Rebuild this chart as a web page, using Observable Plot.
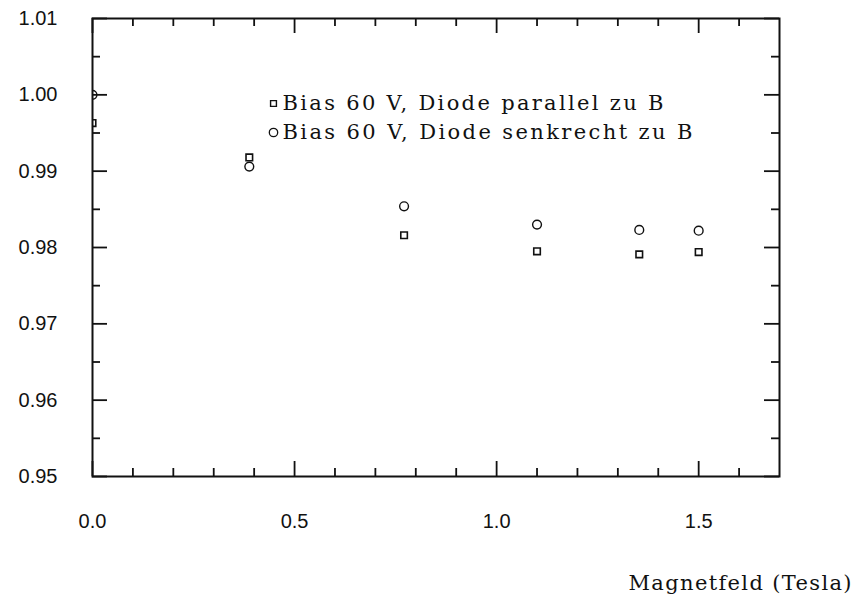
<!DOCTYPE html>
<html><head><meta charset="utf-8">
<script src="https://cdn.jsdelivr.net/npm/d3@7"></script>
<script src="https://cdn.jsdelivr.net/npm/@observablehq/plot@0.6"></script>
<style>body{margin:0;background:#fff;}</style>
</head><body><div id="chart"></div>
<script>
// Data
const field = [0, 0.388, 0.771, 1.10, 1.353, 1.50];
const parallel = [0.9963, 0.9918, 0.9816, 0.9795, 0.9791, 0.9794];
const senkrecht = [1.0000, 0.9906, 0.9854, 0.9830, 0.9823, 0.9822];
const seriesLabels = ["Bias 60 V, Diode parallel zu B", "Bias 60 V, Diode senkrecht zu B"];
const xLabel = "Magnetfeld (Tesla)";
const xMajor = [0, 0.5, 1.0, 1.5];
const xMinor = [0.1, 0.2, 0.3, 0.4, 0.6, 0.7, 0.8, 0.9, 1.1, 1.2, 1.3, 1.4, 1.6];
const yMajor = [0.95, 0.96, 0.97, 0.98, 0.99, 1.00, 1.01];
const yMinor = [0.955, 0.965, 0.975, 0.985, 0.995, 1.005];

const W = 858, H = 598, mL = 92, mR = 79, mT = 18, mB = 122;
const fw = W - mL - mR, fh = H - mT - mB;
const rowsP = field.map((b, i) => ({b, v: parallel[i]}));
const rowsS = field.map((b, i) => ({b, v: senkrecht[i]}));
const ink = "#111";
const serif = "DejaVu Serif";

const chart = Plot.plot({
  width: W, height: H,
  marginLeft: mL, marginRight: mR, marginTop: mT, marginBottom: mB,
  style: {fontFamily: "Liberation Sans", fontSize: "20px", color: ink, background: "#fff"},
  x: {domain: [0, 1.7]},
  y: {domain: [0.95, 1.01]},
  marks: [
    Plot.axisX({ticks: xMajor, tickSize: 0, tickPadding: 37, tickFormat: d3.format(".1f"), label: null, fontSize: 20}),
    Plot.axisY({ticks: yMajor, tickSize: 0, tickPadding: 35, tickFormat: d3.format(".2f"), label: null, fontSize: 20}),
    // ticks inside the frame
    Plot.ruleX(xMajor, {x: d => d, insetTop: fh - 15, stroke: ink, strokeWidth: 1.8}),
    Plot.ruleX(xMinor, {x: d => d, insetTop: fh - 8, stroke: ink, strokeWidth: 1.8}),
    Plot.ruleX(xMajor, {x: d => d, insetBottom: fh - 15, stroke: ink, strokeWidth: 1.8}),
    Plot.ruleX(xMinor, {x: d => d, insetBottom: fh - 8, stroke: ink, strokeWidth: 1.8}),
    Plot.ruleY(yMajor, {y: d => d, insetRight: fw - 15, stroke: ink, strokeWidth: 1.8}),
    Plot.ruleY(yMinor, {y: d => d, insetRight: fw - 8, stroke: ink, strokeWidth: 1.8}),
    Plot.ruleY(yMajor, {y: d => d, insetLeft: fw - 15, stroke: ink, strokeWidth: 1.8}),
    Plot.ruleY(yMinor, {y: d => d, insetLeft: fw - 8, stroke: ink, strokeWidth: 1.8}),
    Plot.frame({stroke: ink, strokeWidth: 2}),
    // data
    Plot.dot(rowsP, {x: "b", y: "v", symbol: "square", r: 3.7, stroke: ink, strokeWidth: 1.6, fill: "none", clip: true}),
    Plot.dot(rowsS, {x: "b", y: "v", symbol: "circle", r: 4.4, stroke: ink, strokeWidth: 1.4, fill: "none", clip: true}),
    // legend
    Plot.dot([seriesLabels[0]], {frameAnchor: "top-left", dx: 181, dy: 85, symbol: "square", r: 3.3, stroke: ink, strokeWidth: 1.4, fill: "none"}),
    Plot.dot([seriesLabels[1]], {frameAnchor: "top-left", dx: 181, dy: 114, symbol: "circle", r: 4.2, stroke: ink, strokeWidth: 1.3, fill: "none"}),
    Plot.text([seriesLabels[0]], {text: d => d, frameAnchor: "top-left", lineAnchor: "middle", dx: 190, dy: 85, textAnchor: "start", fontFamily: serif, fontSize: 21, fill: ink}),
    Plot.text([seriesLabels[1]], {text: d => d, frameAnchor: "top-left", lineAnchor: "middle", dx: 190, dy: 114, textAnchor: "start", fontFamily: serif, fontSize: 21, fill: ink}),
    // axis title
    Plot.text([xLabel], {text: d => d, frameAnchor: "bottom-right", lineAnchor: "middle", dx: 72, dy: 107, textAnchor: "end", fontFamily: serif, fontSize: 21, fill: ink})
  ]
});

const widths = new Map([[seriesLabels[0], 381], [seriesLabels[1], 410], [xLabel, 223]]);
d3.select(chart).selectAll("text").each(function() {
  const w = widths.get(this.textContent);
  if (w) { this.setAttribute("textLength", w); this.setAttribute("lengthAdjust", "spacing"); }
});
document.getElementById("chart").appendChild(chart);
</script>
</body></html>
